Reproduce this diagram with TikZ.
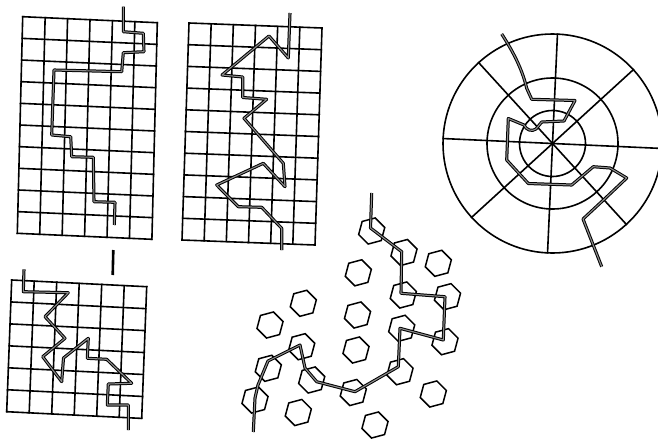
\documentclass[tikz,border=0pt]{standalone}
\usetikzlibrary{calc,shapes.geometric}
\begin{document}
\begin{tikzpicture}[x=1pt,y=-1pt,
  gridline/.style={line width=1.6pt, black, line cap=rect},
  route/.style={line width=1pt, black, double=black!45, double distance=1.1pt, line join=round},
  stub/.style={line width=2.6pt, black},
  hexa/.style={regular polygon, regular polygon sides=6, draw=black, line width=1.5pt, minimum size=27pt, inner sep=0pt, rotate=15}]
\useasboundingbox (0,0) rectangle (658,439);
\clip (0,0) rectangle (658,439);

% ---------- grid A (top left)
\coordinate (A1) at (22.7,16.7); \coordinate (A2) at (157.3,22.7);
\coordinate (A3) at (17.3,233.3); \coordinate (A4) at (151.9,239.3);
\foreach \i in {0,...,6} \draw[gridline] ($(A1)!\i/6!(A2)$) -- ($(A3)!\i/6!(A4)$);
\foreach \j in {0,...,10} \draw[gridline] ($(A1)!\j/10!(A3)$) -- ($(A2)!\j/10!(A4)$);
\draw[route] (123.3,6.7) -- (123.3,31.7) -- (143.3,33.3) -- (144,51.7) -- (123.3,52.7)
  -- (121.7,71.7) -- (54,70) -- (51.7,135) -- (70.7,136.7) -- (71.7,156.7)
  -- (93.3,157.3) -- (94,201.7) -- (115,202.3) -- (114.3,225);

% ---------- grid B (top middle)
\coordinate (B1) at (189,23); \coordinate (B2) at (322,28);
\coordinate (B3) at (182,240); \coordinate (B4) at (315,245);
\foreach \i in {0,...,6} \draw[gridline] ($(B1)!\i/6!(B2)$) -- ($(B3)!\i/6!(B4)$);
\foreach \j in {0,...,10} \draw[gridline] ($(B1)!\j/10!(B3)$) -- ($(B2)!\j/10!(B4)$);
\draw[route] (290,13) -- (288.3,58) -- (269,36) -- (222,75) -- (242.7,77) -- (242.7,97.5)
  -- (266.7,99.3) -- (244,118.3) -- (283.3,163.3) -- (285,186.7) -- (263.3,163.3)
  -- (216.7,185) -- (238.3,206.7) -- (261.7,207.3) -- (281.7,228.3) -- (281.7,250);

% ---------- grid C (bottom left)
\coordinate (C1) at (11.7,280); \coordinate (C2) at (146.7,286.7);
\coordinate (C3) at (6.7,411.7); \coordinate (C4) at (141.7,418.4);
\foreach \i in {0,...,6} \draw[gridline] ($(C1)!\i/6!(C2)$) -- ($(C3)!\i/6!(C4)$);
\foreach \j in {0,...,6} \draw[gridline] ($(C1)!\j/6!(C3)$) -- ($(C2)!\j/6!(C4)$);
\draw[route] (24,269.3) -- (23.3,291.7) -- (68.3,292.7) -- (45,316.7) -- (65,338.3)
  -- (42.7,356.7) -- (61.7,381.7) -- (63.5,358) -- (88.3,338.3) -- (87.3,358.3)
  -- (106.7,359.3) -- (131.7,383.3) -- (108.3,384) -- (107.3,405) -- (128.3,405) -- (128.3,430);
\draw[stub] (113.3,250) -- (112.7,275);

% ---------- polar grid (right)
\coordinate (P) at (552.5,143.5);
\foreach \r in {33,65.5,109.5} \draw[gridline] (P) circle[radius=\r];
\foreach \a in {0,45,90,135} \draw[gridline] ($(P)+(\a+2.6:109.5)$) -- ($(P)+(\a+182.6:109.5)$);
\draw[route] (501.7,34) .. controls (512,50) and (522,68) .. (526.7,88.3) -- (531.7,99.3)
  -- (575,100.5) -- (564,121) -- (541.7,122) -- (536,129)
  .. controls (532,132) and (526,130) .. (524,125) -- (508.3,118.5) -- (506.7,160)
  -- (528.3,183.5) -- (571.7,185) -- (593.3,166.7) -- (610,168) -- (626.7,178)
  -- (604,199.5) -- (583,219) -- (601.7,266.7);

% ---------- hexagon field (bottom middle)
\foreach \n/\x/\y in {1/371.7/231, 2/404/252.5, 3/438.3/263.3, 4/358.3/272.8, 5/403.3/295,
  6/447.5/296.7, 7/303.3/303.3, 8/357.5/315, 9/270/325, 10/401.7/328.3, 11/445/341.7,
  12/301.7/346.7, 13/356/350, 14/268.3/368.3, 15/400/371.7, 16/311.7/380, 17/353.3/392.5,
  18/433.3/394, 19/255/400, 20/298.3/412.5, 21/375/425}
  \node[hexa] (h\n) at (\x,\y) {};
\draw[route] (371.7,193) -- (370.5,228) -- (401.7,251.7) -- (401,293.3) -- (445,296.7)
  -- (443.3,340) -- (400,328.3) -- (398.3,366.7) -- (355,391.7) -- (316.7,381.7)
  -- (305,368) -- (300,345) -- (290,350) -- (268,361) -- (258,385) -- (255,398) -- (253.3,432);
\end{tikzpicture}
\end{document}
